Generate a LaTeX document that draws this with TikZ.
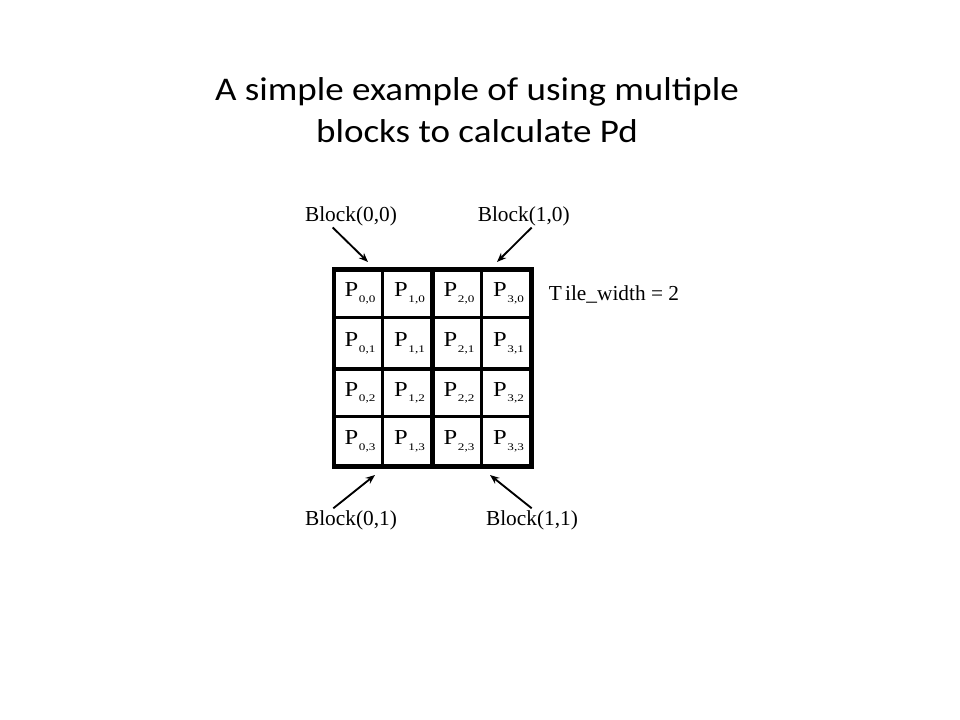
\documentclass[tikz,border=0pt]{standalone}
\usepackage{fontspec}
\setmainfont{Liberation Serif}
\newfontfamily\titlefont[FakeStretch=1.12]{Carlito}
\newfontfamily\pfont[FakeStretch=1.15]{Liberation Serif}
\newfontfamily\subfont[FakeStretch=1.3]{Liberation Serif}
\usetikzlibrary{arrows.meta}
\newcommand{\pcell}[2]{{\pfont P}\hspace{0.6pt}\raisebox{-4.2pt}{\subfont\fontsize{7.6}{8}\selectfont #1,#2}}
\begin{document}
\begin{tikzpicture}[x=0.75pt,y=-0.75pt,
  lbl/.style={font=\fontsize{16}{18}\selectfont, inner sep=0pt, anchor=base},
  cellnode/.style={font=\fontsize{16}{18}\selectfont, inner sep=0pt, minimum width=36pt, minimum height=36pt},
  thinline/.style={line width=2.1pt},
  thickline/.style={line width=3.4pt},
  arr/.style={line width=1.4pt, -{Stealth[length=7pt,width=5.5pt]}}]
\useasboundingbox (0,0) rectangle (960,720);
\fill[white] (0,0) rectangle (960,720);
% title
\node[font=\titlefont\fontsize{24.8}{31.2}\selectfont, align=center, inner sep=0pt, anchor=base] (title) at (477,142.3)
  {A simple example of using multiple\\blocks to calculate Pd};
% cells
\foreach \i/\cx in {0/360,1/409.5,2/459,3/508.5}{
  \foreach \j/\cy in {0/293.5,1/343.25,2/392.75,3/441.5}{
    \node[cellnode] (c\i\j) at (\cx,\cy) {\pcell{\i}{\j}};
  }
}
% grid lines
\draw[thinline] (382.5,269.5) -- (382.5,466.5);
\draw[thinline] (481.5,269.5) -- (481.5,466.5);
\draw[thinline] (334,317.5) -- (531.5,317.5);
\draw[thinline] (334,416.5) -- (531.5,416.5);
\draw[thickline] (432.5,269.5) -- (432.5,466.5);
\draw[thickline] (334,369) -- (531.5,369);
\draw[thickline] (334,269.5) rectangle (531.5,466.5);
% labels
\node[lbl] (b00) at (351,222) {Block(0,0)};
\node[lbl] (b10) at (523.7,222) {Block(1,0)};
\node[lbl] (b01) at (351,525.7) {Block(0,1)};
\node[lbl] (b11) at (532,525.7) {Block(1,1)};
\node[lbl, anchor=base west] (tw) at (548.5,300.7) {T\kern2.5pt ile\_width = 2};
% arrow ends
\coordinate (s00) at (332.7,227.5);
\coordinate (t00) at (368,262);
\coordinate (s10) at (531.7,227.5);
\coordinate (t10) at (497,262);
\coordinate (s01) at (333.3,508.3);
\coordinate (t01) at (375,475);
\coordinate (s11) at (531.7,508.3);
\coordinate (t11) at (490,475);
\draw[arr] (s00) -- (t00);
\draw[arr] (s10) -- (t10);
\draw[arr] (s01) -- (t01);
\draw[arr] (s11) -- (t11);
\end{tikzpicture}
\end{document}
